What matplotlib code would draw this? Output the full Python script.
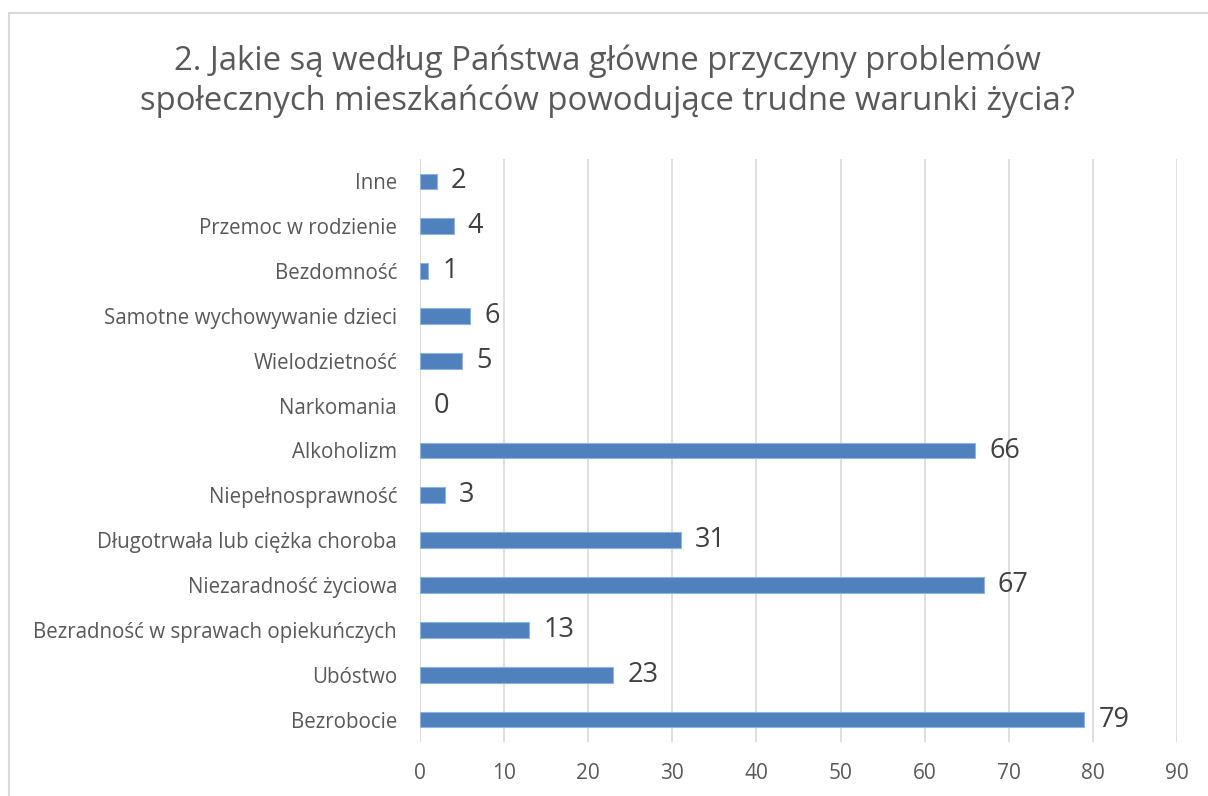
import matplotlib
matplotlib.use("Agg")
import matplotlib.pyplot as plt
from matplotlib.patches import Rectangle

categories = ["Bezrobocie", "Ubóstwo", "Bezradność w sprawach opiekuńczych",
              "Niezaradność życiowa", "Długotrwała lub ciężka choroba",
              "Niepełnosprawność", "Alkoholizm", "Narkomania", "Wielodzietność",
              "Samotne wychowywanie dzieci", "Bezdomność", "Przemoc w rodzienie", "Inne"]
values = [79, 23, 13, 67, 31, 3, 66, 0, 5, 6, 1, 4, 2]
xticks = [0, 10, 20, 30, 40, 50, 60, 70, 80, 90]
title = "2. Jakie są według Państwa główne przyczyny problemów\nspołecznych mieszkańców powodujące trudne warunki życia?"

plt.rcParams['font.family'] = ['Open Sans', 'DejaVu Sans']
txt = '#595959'

fig = plt.figure(figsize=(12.08, 7.96), dpi=100)
fig.patches.append(Rectangle((9/1208, -0.1), 1.2, 1 - 13/796 + 0.1, transform=fig.transFigure,
                             fill=False, edgecolor='#d9d9d9', linewidth=1.5))
ax = fig.add_axes([420/1208, 1 - 742/796, (1177 - 420)/1208, (742 - 159)/796])

y = list(range(len(categories)))
lws = [0 if v == 0 else 0.8 for v in values]
ax.barh(y, values, height=0.35, color='#4F81BD', edgecolor='#8EB4E3', linewidth=lws, zorder=3)
for yi, v in zip(y, values):
    ax.annotate(str(v), (v, yi), xytext=(14, 0), textcoords='offset pixels',
                va='center', ha='left', fontsize=19.5, color='#404040')

ax.set_xlim(0, 90)
ax.set_ylim(-0.5, len(categories) - 0.5)
ax.set_xticks(xticks)
ax.set_yticks(y)
ax.set_yticklabels(categories)
ax.xaxis.grid(True, color='#d9d9d9', linewidth=1.2, zorder=0)
for s in ax.spines.values():
    s.set_visible(False)
ax.tick_params(axis='both', length=0, colors=txt)
ax.tick_params(axis='x', pad=15, labelsize=15)
ax.tick_params(axis='y', pad=16.5, labelsize=14.8)
ax.axvline(0, color='#d9d9d9', linewidth=1.2, zorder=1)

fig.text(0.503, 1 - 81/796, title, ha='center', va='center', fontsize=23.7, color=txt, linespacing=1.25)

fig.savefig('out.png', dpi=100)
